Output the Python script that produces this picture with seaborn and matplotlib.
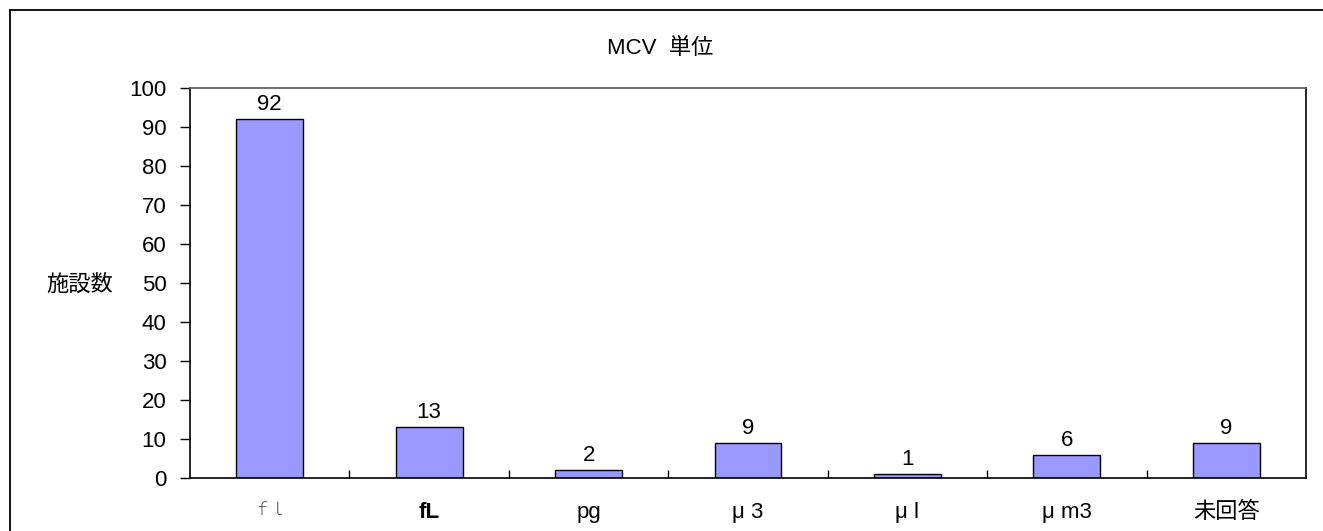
import matplotlib
matplotlib.use("Agg")
import matplotlib.pyplot as plt
import matplotlib.patches as mpatches
import seaborn as sns
import pandas as pd
import numpy as np

categories = ["ｆｌ", "fL", "pg", "μ 3", "μ l", "μ m3", "未回答"]
counts = [92, 13, 2, 9, 1, 6, 9]
yticks = [0, 10, 20, 30, 40, 50, 60, 70, 80, 90, 100]
title = "MCV  単位"
ylabel = "施設数"

sns.set_theme(style="white")
plt.rcParams["font.family"] = ["Liberation Sans", "Noto Sans CJK JP", "DejaVu Sans"]
plt.rcParams["text.color"] = "black"
plt.rcParams["xtick.color"] = "black"
plt.rcParams["ytick.color"] = "black"
plt.rcParams["axes.labelcolor"] = "black"

FS = 16

df = pd.DataFrame({"cat": categories, "n": counts})

fig = plt.figure(figsize=(13.23, 5.31), dpi=100)
ax = fig.add_axes([190 / 1323, 1 - 478 / 531, 1116 / 1323, 390 / 531])

sns.barplot(data=df, x="cat", y="n", ax=ax, color="#9999FF", saturation=1,
            width=0.42, edgecolor="black", linewidth=1)

for i, v in enumerate(counts):
    ax.text(i, v + 1.0, str(v), ha="center", va="bottom", fontsize=FS, color="black")

ax.set_xlim(-0.5, len(categories) - 0.5)
ax.set_ylim(0, 100)
ax.set_yticks(yticks)
ax.set_yticklabels([str(t) for t in yticks], fontsize=FS)
ax.tick_params(axis="y", direction="out", length=7, width=1, color="black", pad=10, left=True)

ax.set_xticks(range(len(categories)))
ax.set_xticklabels(categories, fontsize=FS)
ax.tick_params(axis="x", which="major", length=0, pad=17)
ax.set_xticks(np.arange(0.5, len(categories) - 0.5, 1.0), minor=True)
ax.tick_params(axis="x", which="minor", direction="in", length=6, width=1, color="black", bottom=True)

xl = ax.get_xticklabels()
xl[0].set_family(["Noto Sans CJK JP"])
xl[0].set_fontweight("light")
xl[0].set_color("#444444")
xl[0].set_fontsize(12)
xl[1].set_fontweight("bold")

ax.set_xlabel("")
ax.set_ylabel("")
for s in ax.spines.values():
    s.set_visible(True)
    s.set_color("black")
    s.set_linewidth(1.2)
ax.spines["top"].set_color("#555555")

fig.text(660 / 1323, 1 - 48 / 531, title, ha="center", va="center", fontsize=FS)
fig.text(80 / 1323, 1 - 285 / 531, ylabel, ha="center", va="center", fontsize=FS)

border = mpatches.Rectangle((10 / 1323, -0.2), 1.2, 1 - 10 / 531 + 0.2,
                            transform=fig.transFigure, fill=False,
                            edgecolor="black", linewidth=1.3, clip_on=False)
fig.patches.append(border)

fig.savefig("out.png", dpi=100, facecolor="white")
